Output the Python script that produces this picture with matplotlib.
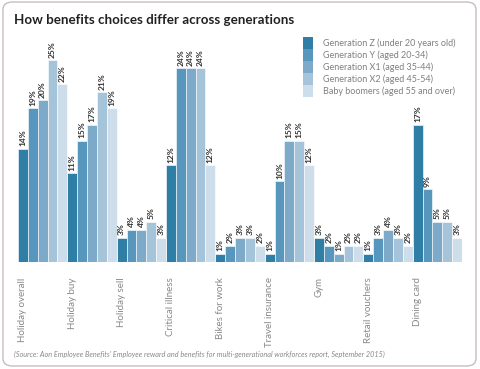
import matplotlib
matplotlib.use("Agg")
import matplotlib.pyplot as plt
from matplotlib.patches import FancyBboxPatch, Rectangle
import numpy as np

categories = ["Holiday overall", "Holiday buy", "Holiday sell", "Critical illness",
              "Bikes for work", "Travel insurance", "Gym", "Retail vouchers", "Dining card"]
series_names = ["Generation Z (under 20 years old)", "Generation Y (aged 20-34)",
                "Generation X1 (aged 35-44)", "Generation X2 (aged 45-54)",
                "Baby boomers (aged 55 and over)"]
gen_z  = [14, 11, 3, 12, 1, 1, 3, 1, 17]
gen_y  = [19, 15, 4, 24, 2, 10, 2, 3, 9]
gen_x1 = [20, 17, 4, 24, 3, 15, 1, 4, 5]
gen_x2 = [25, 21, 5, 24, 3, 15, 2, 3, 5]
boomers = [22, 19, 3, 12, 2, 12, 2, 2, 3]
colors = ["#2f7ea6", "#5897bd", "#7daac8", "#a5c4d9", "#cddde9"]

title = "How benefits choices differ across generations"
source = ("(Source: Aon Employee Benefits' Employee reward and benefits for "
          "multi-generational workforces report, September 2015)")

plt.rcParams['font.family'] = ['Lato', 'DejaVu Sans']

W, H = 480, 369
fig = plt.figure(figsize=(W/100, H/100), dpi=100)

# border
border = FancyBboxPatch((3/W, 3/H), 473/W, 364/H,
                        boxstyle="round,pad=0,rounding_size=0.02",
                        transform=fig.transFigure, fill=False,
                        edgecolor="#c9bcc3", linewidth=1.0)
fig.patches.append(border)

px_per = (262 - 60) / 25.0
top_px = 40
ax = fig.add_axes([18/W, 1 - 262/H, (462 - 18)/W, (262 - top_px)/H])
ax.set_ylim(0, (262 - top_px) / px_per)
n = len(categories)
all_series = [gen_z, gen_y, gen_x1, gen_x2, boomers]
for s, (vals, col, name) in enumerate(zip(all_series, colors, series_names)):
    x = np.arange(n) * 5 + s
    ax.bar(x, vals, width=1.0, color=col, edgecolor="white", linewidth=0.4,
           label=name)
    for xi, v in zip(x, vals):
        ax.text(xi, v + 0.3, f"{v}%", rotation=90, ha="center", va="bottom",
                fontsize=6, fontweight="bold", color="#333333")
ax.set_xlim(-0.5, 5 * n - 0.5)
ax.set_xticks(np.arange(n) * 5)
ax.set_xticklabels(categories, rotation=90, fontsize=7, color="#888888",
                   va="top", ha="center")
ax.tick_params(axis="x", length=0, pad=11)
ax.set_yticks([])
for sp in ax.spines.values():
    sp.set_visible(False)

fig.text(14/W, 1 - 20/H, title, fontsize=9.6, fontweight="bold", color="#222222",
         ha="left", va="center")

# manual legend with contiguous colour blocks
row_h = 12
y0 = 37
for i, (col, name) in enumerate(zip(colors, series_names)):
    top = y0 + i * row_h
    fig.patches.append(Rectangle((303/W, 1 - (top + row_h)/H), 10/W, row_h/H,
                                 transform=fig.transFigure, facecolor=col,
                                 edgecolor="none"))
    fig.text(323/W, 1 - (top + row_h/2)/H, name, fontsize=6.5, color="#808080",
             ha="left", va="center")

fig.text(14/W, 1 - 354/H, source, fontsize=5.2, style="italic", color="#888888",
         ha="left", va="center")

fig.savefig("out.png", dpi=100)
